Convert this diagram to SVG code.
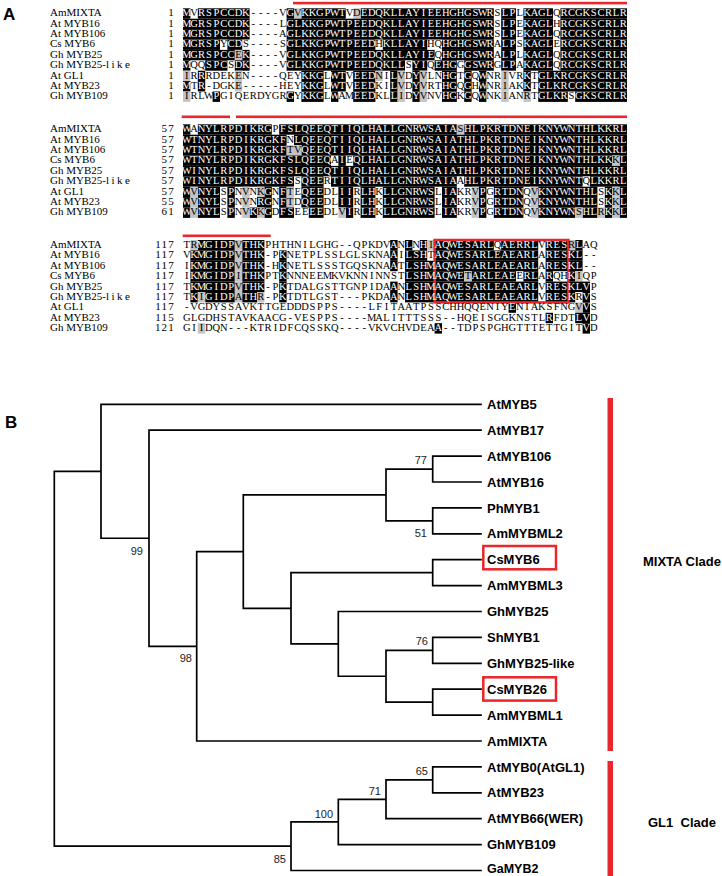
<svg xmlns="http://www.w3.org/2000/svg" width="722" height="876" viewBox="0 0 722 876">
<style>
.g{fill:#c4c4c4}
.sq{font-family:"Liberation Serif","Times New Roman",serif;font-size:10.5px;text-anchor:middle;fill:#000}
.w{fill:#fff}
.nm{font-family:"Liberation Serif","Times New Roman",serif;font-size:11px;fill:#000}
.num{font-family:"Liberation Serif","Times New Roman",serif;font-size:11px;text-anchor:end;fill:#000;letter-spacing:1.2px}
.red{fill:#e8262b}
.pl{font-family:"Liberation Sans",Arial,sans-serif;font-weight:bold;font-size:17px;fill:#000}
.lbl{font-family:"Liberation Sans",Arial,sans-serif;font-weight:bold;font-size:13px;fill:#000}
.bs{font-family:"Liberation Sans",Arial,sans-serif;font-size:11px;text-anchor:end;fill:#222}
.tree{fill:none;stroke:#000;stroke-width:1.7;stroke-linecap:square}
.box{fill:none;stroke:#e8262b;stroke-width:2.5}
</style>
<rect width="722" height="876" fill="#fff"/>
<g id="panelA">
<text class="pl" x="3" y="20">A</text>
<rect class="red" x="293" y="1.8" width="334" height="2.6"/>
<rect class="red" x="181.7" y="115.5" width="48.3" height="2.6"/>
<rect class="red" x="236" y="115.5" width="391" height="2.6"/>
<rect class="red" x="182.7" y="234.5" width="88" height="2.6"/>
<g id="shading">
<g transform="translate(183 8.3) scale(7.4 1)"><rect x="0" width="1" height="10.4"/><rect x="2" width="7" height="10.4"/><rect x="14" width="1" height="10.4"/><rect x="16" width="6" height="10.4"/><rect x="24" width="18" height="10.4"/><rect x="43" width="2" height="10.4"/><rect x="46" width="4" height="10.4"/><rect x="51" width="9" height="10.4"/><rect class="g" x="15" width="1" height="10.4"/><rect class="g" x="23" width="1" height="10.4"/></g>
<g transform="translate(183 18.7) scale(7.4 1)"><rect x="0" width="9" height="10.4"/><rect x="14" width="28" height="10.4"/><rect x="43" width="2" height="10.4"/><rect x="46" width="4" height="10.4"/><rect x="51" width="9" height="10.4"/></g>
<g transform="translate(183 29.1) scale(7.4 1)"><rect x="0" width="9" height="10.4"/><rect x="14" width="28" height="10.4"/><rect x="43" width="2" height="10.4"/><rect x="46" width="4" height="10.4"/><rect x="51" width="9" height="10.4"/></g>
<g transform="translate(183 39.5) scale(7.4 1)"><rect x="0" width="5" height="10.4"/><rect x="6" width="2" height="10.4"/><rect x="14" width="12" height="10.4"/><rect x="27" width="6" height="10.4"/><rect x="35" width="7" height="10.4"/><rect x="43" width="2" height="10.4"/><rect x="46" width="4" height="10.4"/><rect x="51" width="9" height="10.4"/></g>
<g transform="translate(183 49.9) scale(7.4 1)"><rect x="0" width="7" height="10.4"/><rect x="8" width="1" height="10.4"/><rect x="14" width="20" height="10.4"/><rect x="35" width="7" height="10.4"/><rect x="43" width="2" height="10.4"/><rect x="46" width="4" height="10.4"/><rect x="51" width="9" height="10.4"/><rect class="g" x="7" width="1" height="10.4"/></g>
<g transform="translate(183 60.3) scale(7.4 1)"><rect x="0" width="1" height="10.4"/><rect x="3" width="3" height="10.4"/><rect x="7" width="2" height="10.4"/><rect x="14" width="16" height="10.4"/><rect x="31" width="2" height="10.4"/><rect x="34" width="3" height="10.4"/><rect x="38" width="4" height="10.4"/><rect x="43" width="2" height="10.4"/><rect x="46" width="4" height="10.4"/><rect x="51" width="9" height="10.4"/></g>
<g transform="translate(183 70.7) scale(7.4 1)"><rect x="2" width="1" height="10.4"/><rect x="16" width="3" height="10.4"/><rect x="20" width="2" height="10.4"/><rect x="23" width="3" height="10.4"/><rect x="28" width="1" height="10.4"/><rect x="31" width="1" height="10.4"/><rect x="35" width="2" height="10.4"/><rect x="38" width="1" height="10.4"/><rect x="40" width="1" height="10.4"/><rect x="46" width="1" height="10.4"/><rect x="48" width="12" height="10.4"/><rect class="g" x="0" width="1" height="10.4"/><rect class="g" x="7" width="1" height="10.4"/><rect class="g" x="26" width="1" height="10.4"/><rect class="g" x="29" width="1" height="10.4"/><rect class="g" x="32" width="1" height="10.4"/><rect class="g" x="43" width="1" height="10.4"/></g>
<g transform="translate(183 81.1) scale(7.4 1)"><rect x="0" width="1" height="10.4"/><rect x="2" width="1" height="10.4"/><rect x="16" width="3" height="10.4"/><rect x="20" width="2" height="10.4"/><rect x="23" width="3" height="10.4"/><rect x="28" width="1" height="10.4"/><rect x="31" width="1" height="10.4"/><rect x="35" width="2" height="10.4"/><rect x="38" width="1" height="10.4"/><rect x="40" width="1" height="10.4"/><rect x="46" width="1" height="10.4"/><rect x="48" width="12" height="10.4"/><rect class="g" x="7" width="1" height="10.4"/><rect class="g" x="29" width="1" height="10.4"/><rect class="g" x="32" width="1" height="10.4"/><rect class="g" x="43" width="1" height="10.4"/></g>
<g transform="translate(183 91.5) scale(7.4 1)"><rect x="4" width="1" height="10.4"/><rect x="14" width="1" height="10.4"/><rect x="16" width="3" height="10.4"/><rect x="20" width="1" height="10.4"/><rect x="23" width="3" height="10.4"/><rect x="28" width="1" height="10.4"/><rect x="31" width="1" height="10.4"/><rect x="35" width="2" height="10.4"/><rect x="38" width="1" height="10.4"/><rect x="40" width="1" height="10.4"/><rect x="48" width="4" height="10.4"/><rect x="53" width="7" height="10.4"/><rect class="g" x="0" width="1" height="10.4"/><rect class="g" x="29" width="1" height="10.4"/><rect class="g" x="32" width="1" height="10.4"/><rect class="g" x="43" width="1" height="10.4"/><rect class="g" x="46" width="1" height="10.4"/></g>

<g transform="translate(183 124.3) scale(7.4 1)"><rect x="0" width="1" height="10.4"/><rect x="2" width="10" height="10.4"/><rect x="13" width="24" height="10.4"/><rect x="38" width="22" height="10.4"/><rect class="g" x="37" width="1" height="10.4"/></g>
<g transform="translate(183 134.7) scale(7.4 1)"><rect x="0" width="14" height="10.4"/><rect x="15" width="45" height="10.4"/></g>
<g transform="translate(183 145.1) scale(7.4 1)"><rect x="0" width="14" height="10.4"/><rect x="16" width="44" height="10.4"/><rect class="g" x="14" width="2" height="10.4"/></g>
<g transform="translate(183 155.5) scale(7.4 1)"><rect x="0" width="20" height="10.4"/><rect x="21" width="1" height="10.4"/><rect x="23" width="35" height="10.4"/><rect x="59" width="1" height="10.4"/><rect class="g" x="58" width="1" height="10.4"/></g>
<g transform="translate(183 165.9) scale(7.4 1)"><rect x="0" width="60" height="10.4"/></g>
<g transform="translate(183 176.3) scale(7.4 1)"><rect x="0" width="15" height="10.4"/><rect x="16" width="3" height="10.4"/><rect x="20" width="17" height="10.4"/><rect x="38" width="16" height="10.4"/><rect x="55" width="5" height="10.4"/></g>
<g transform="translate(183 186.7) scale(7.4 1)"><rect x="0" width="1" height="10.4"/><rect x="2" width="3" height="10.4"/><rect x="6" width="1" height="10.4"/><rect x="11" width="1" height="10.4"/><rect x="13" width="1" height="10.4"/><rect x="16" width="3" height="10.4"/><rect x="21" width="2" height="10.4"/><rect x="24" width="2" height="10.4"/><rect x="27" width="7" height="10.4"/><rect x="35" width="2" height="10.4"/><rect x="40" width="1" height="10.4"/><rect x="42" width="4" height="10.4"/><rect x="48" width="8" height="10.4"/><rect x="57" width="1" height="10.4"/><rect x="59" width="1" height="10.4"/><rect class="g" x="1" width="1" height="10.4"/><rect class="g" x="8" width="1" height="10.4"/><rect class="g" x="10" width="1" height="10.4"/><rect class="g" x="14" width="1" height="10.4"/><rect class="g" x="39" width="1" height="10.4"/><rect class="g" x="47" width="1" height="10.4"/><rect class="g" x="58" width="1" height="10.4"/></g>
<g transform="translate(183 197.1) scale(7.4 1)"><rect x="0" width="1" height="10.4"/><rect x="2" width="3" height="10.4"/><rect x="6" width="1" height="10.4"/><rect x="10" width="2" height="10.4"/><rect x="13" width="1" height="10.4"/><rect x="16" width="3" height="10.4"/><rect x="21" width="2" height="10.4"/><rect x="24" width="2" height="10.4"/><rect x="27" width="7" height="10.4"/><rect x="35" width="2" height="10.4"/><rect x="40" width="1" height="10.4"/><rect x="42" width="4" height="10.4"/><rect x="48" width="8" height="10.4"/><rect x="57" width="1" height="10.4"/><rect x="59" width="1" height="10.4"/><rect class="g" x="1" width="1" height="10.4"/><rect class="g" x="8" width="1" height="10.4"/><rect class="g" x="14" width="1" height="10.4"/><rect class="g" x="39" width="1" height="10.4"/><rect class="g" x="47" width="1" height="10.4"/><rect class="g" x="58" width="1" height="10.4"/></g>
<g transform="translate(183 207.5) scale(7.4 1)"><rect x="0" width="1" height="10.4"/><rect x="2" width="3" height="10.4"/><rect x="6" width="1" height="10.4"/><rect x="9" width="1" height="10.4"/><rect x="11" width="1" height="10.4"/><rect x="13" width="2" height="10.4"/><rect x="17" width="2" height="10.4"/><rect x="22" width="1" height="10.4"/><rect x="24" width="2" height="10.4"/><rect x="27" width="7" height="10.4"/><rect x="35" width="2" height="10.4"/><rect x="40" width="1" height="10.4"/><rect x="42" width="4" height="10.4"/><rect x="48" width="5" height="10.4"/><rect x="54" width="2" height="10.4"/><rect x="57" width="1" height="10.4"/><rect x="59" width="1" height="10.4"/><rect class="g" x="1" width="1" height="10.4"/><rect class="g" x="8" width="1" height="10.4"/><rect class="g" x="10" width="1" height="10.4"/><rect class="g" x="21" width="1" height="10.4"/><rect class="g" x="39" width="1" height="10.4"/><rect class="g" x="47" width="1" height="10.4"/><rect class="g" x="53" width="1" height="10.4"/><rect class="g" x="56" width="1" height="10.4"/><rect class="g" x="58" width="1" height="10.4"/></g>

<g transform="translate(183 240) scale(7.4 1)"><rect x="2" width="5" height="10.4"/><rect x="8" width="3" height="10.4"/><rect x="28" width="1" height="10.4"/><rect x="30" width="1" height="10.4"/><rect x="32" width="1" height="10.4"/><rect x="34" width="8" height="10.4"/><rect x="43" width="5" height="10.4"/><rect x="49" width="3" height="10.4"/><rect x="53" width="1" height="10.4"/><rect class="g" x="1" width="1" height="10.4"/><rect class="g" x="7" width="1" height="10.4"/><rect class="g" x="33" width="1" height="10.4"/><rect class="g" x="52" width="1" height="10.4"/></g>
<g transform="translate(183 250.4) scale(7.4 1)"><rect x="1" width="6" height="10.4"/><rect x="8" width="3" height="10.4"/><rect x="13" width="1" height="10.4"/><rect x="28" width="1" height="10.4"/><rect x="30" width="3" height="10.4"/><rect x="34" width="14" height="10.4"/><rect x="49" width="5" height="10.4"/><rect class="g" x="7" width="1" height="10.4"/></g>
<g transform="translate(183 260.8) scale(7.4 1)"><rect x="1" width="6" height="10.4"/><rect x="8" width="3" height="10.4"/><rect x="13" width="1" height="10.4"/><rect x="28" width="1" height="10.4"/><rect x="30" width="18" height="10.4"/><rect x="49" width="5" height="10.4"/><rect class="g" x="7" width="1" height="10.4"/></g>
<g transform="translate(183 271.2) scale(7.4 1)"><rect x="1" width="6" height="10.4"/><rect x="8" width="3" height="10.4"/><rect x="13" width="1" height="10.4"/><rect x="30" width="8" height="10.4"/><rect x="39" width="6" height="10.4"/><rect x="46" width="2" height="10.4"/><rect x="49" width="1" height="10.4"/><rect x="52" width="1" height="10.4"/><rect class="g" x="7" width="1" height="10.4"/><rect class="g" x="38" width="1" height="10.4"/><rect class="g" x="53" width="1" height="10.4"/></g>
<g transform="translate(183 281.6) scale(7.4 1)"><rect x="1" width="6" height="10.4"/><rect x="8" width="3" height="10.4"/><rect x="13" width="1" height="10.4"/><rect x="28" width="1" height="10.4"/><rect x="30" width="18" height="10.4"/><rect x="49" width="6" height="10.4"/><rect class="g" x="7" width="1" height="10.4"/></g>
<g transform="translate(183 292) scale(7.4 1)"><rect x="1" width="1" height="10.4"/><rect x="3" width="4" height="10.4"/><rect x="8" width="2" height="10.4"/><rect x="13" width="1" height="10.4"/><rect x="28" width="1" height="10.4"/><rect x="30" width="18" height="10.4"/><rect x="49" width="4" height="10.4"/><rect x="54" width="1" height="10.4"/><rect class="g" x="2" width="1" height="10.4"/><rect class="g" x="7" width="1" height="10.4"/><rect class="g" x="10" width="1" height="10.4"/></g>
<g transform="translate(183 302.4) scale(7.4 1)"><rect x="44" width="1" height="10.4"/><rect x="54" width="1" height="10.4"/><rect class="g" x="53" width="1" height="10.4"/></g>
<g transform="translate(183 312.8) scale(7.4 1)"><rect x="49" width="1" height="10.4"/><rect x="53" width="2" height="10.4"/></g>
<g transform="translate(183 323.2) scale(7.4 1)"><rect x="34" width="1" height="10.4"/><rect x="54" width="1" height="10.4"/><rect class="g" x="2" width="1" height="10.4"/></g>
</g>
<rect class="box" x="434.6" y="240" width="133.8" height="62.4"/>
<g id="names">
<text class="nm" x="50" y="16.2">AmMIXTA</text>
<text class="nm" x="50" y="26.6">At MYB16</text>
<text class="nm" x="50" y="37">At MYB106</text>
<text class="nm" x="50" y="47.4">Cs MYB6</text>
<text class="nm" x="50" y="57.8">Gh MYB25</text>
<text class="nm" x="50" y="68.2">Gh MYB25-<tspan letter-spacing="2.5">like</tspan></text>
<text class="nm" x="50" y="78.6">At GL1</text>
<text class="nm" x="50" y="89">At MYB23</text>
<text class="nm" x="50" y="99.4">Gh MYB109</text>
<text class="nm" x="50" y="132.2">AmMIXTA</text>
<text class="nm" x="50" y="142.6">At MYB16</text>
<text class="nm" x="50" y="153">At MYB106</text>
<text class="nm" x="50" y="163.4">Cs MYB6</text>
<text class="nm" x="50" y="173.8">Gh MYB25</text>
<text class="nm" x="50" y="184.2">Gh MYB25-<tspan letter-spacing="2.5">like</tspan></text>
<text class="nm" x="50" y="194.6">At GL1</text>
<text class="nm" x="50" y="205">At MYB23</text>
<text class="nm" x="50" y="215.4">Gh MYB109</text>
<text class="nm" x="50" y="247.9">AmMIXTA</text>
<text class="nm" x="50" y="258.3">At MYB16</text>
<text class="nm" x="50" y="268.7">At MYB106</text>
<text class="nm" x="50" y="279.1">Cs MYB6</text>
<text class="nm" x="50" y="289.5">Gh MYB25</text>
<text class="nm" x="50" y="299.9">Gh MYB25-<tspan letter-spacing="2.5">like</tspan></text>
<text class="nm" x="50" y="310.3">At GL1</text>
<text class="nm" x="50" y="320.7">At MYB23</text>
<text class="nm" x="50" y="331.1">Gh MYB109</text>
</g>
<g id="numbers">
<text class="num" x="175" y="16.2">1</text><text class="num" x="175" y="26.6">1</text><text class="num" x="175" y="37">1</text><text class="num" x="175" y="47.4">1</text><text class="num" x="175" y="57.8">1</text><text class="num" x="175" y="68.2">1</text><text class="num" x="175" y="78.6">1</text><text class="num" x="175" y="89">1</text><text class="num" x="175" y="99.4">1</text>
<text class="num" x="175" y="132.2">57</text><text class="num" x="175" y="142.6">57</text><text class="num" x="175" y="153">57</text><text class="num" x="175" y="163.4">57</text><text class="num" x="175" y="173.8">57</text><text class="num" x="175" y="184.2">57</text><text class="num" x="175" y="194.6">57</text><text class="num" x="175" y="205">55</text><text class="num" x="175" y="215.4">61</text>
<text class="num" x="175" y="247.9">117</text><text class="num" x="175" y="258.3">117</text><text class="num" x="175" y="268.7">117</text><text class="num" x="175" y="279.1">117</text><text class="num" x="175" y="289.5">117</text><text class="num" x="175" y="299.9">117</text><text class="num" x="175" y="310.3">117</text><text class="num" x="175" y="320.7">115</text><text class="num" x="175" y="331.1">121</text>
</g>
<g id="sequences">
<text class="sq" y="16.2" x="186.7 194.1 201.5 208.9 216.3 223.7 231.1 238.5 245.9 253.3 260.7 268.1 275.5 282.9 290.3 297.7 305.1 312.5 319.9 327.3 334.7 342.1 349.5 356.9 364.3 371.7 379.1 386.5 393.9 401.3 408.7 416.1 423.5 430.9 438.3 445.7 453.1 460.5 467.9 475.3 482.7 490.1 497.5 504.9 512.3 519.7 527.1 534.5 541.9 549.3 556.7 564.1 571.5 578.9 586.3 593.7 601.1 608.5 615.9 623.3"><tspan class="w">M</tspan>V<tspan class="w">RSPCCDK</tspan>----V<tspan class="w">G</tspan>V<tspan class="w">KKGPWT</tspan>VD<tspan class="w">EDQKLLAYIEEHGHGSWR</tspan>S<tspan class="w">LP</tspan>L<tspan class="w">KAGL</tspan>Q<tspan class="w">RCGKSCRLR</tspan></text>
<text class="sq" y="26.6" x="186.7 194.1 201.5 208.9 216.3 223.7 231.1 238.5 245.9 253.3 260.7 268.1 275.5 282.9 290.3 297.7 305.1 312.5 319.9 327.3 334.7 342.1 349.5 356.9 364.3 371.7 379.1 386.5 393.9 401.3 408.7 416.1 423.5 430.9 438.3 445.7 453.1 460.5 467.9 475.3 482.7 490.1 497.5 504.9 512.3 519.7 527.1 534.5 541.9 549.3 556.7 564.1 571.5 578.9 586.3 593.7 601.1 608.5 615.9 623.3"><tspan class="w">MGRSPCCDK</tspan>----L<tspan class="w">GLKKGPWTPEEDQKLLAYIEEHGHGSWR</tspan>S<tspan class="w">LP</tspan>E<tspan class="w">KAGL</tspan>H<tspan class="w">RCGKSCRLR</tspan></text>
<text class="sq" y="37" x="186.7 194.1 201.5 208.9 216.3 223.7 231.1 238.5 245.9 253.3 260.7 268.1 275.5 282.9 290.3 297.7 305.1 312.5 319.9 327.3 334.7 342.1 349.5 356.9 364.3 371.7 379.1 386.5 393.9 401.3 408.7 416.1 423.5 430.9 438.3 445.7 453.1 460.5 467.9 475.3 482.7 490.1 497.5 504.9 512.3 519.7 527.1 534.5 541.9 549.3 556.7 564.1 571.5 578.9 586.3 593.7 601.1 608.5 615.9 623.3"><tspan class="w">MGRSPCCDK</tspan>----A<tspan class="w">GLKKGPWTPEEDQKLLAYIEEHGHGSWR</tspan>S<tspan class="w">LP</tspan>E<tspan class="w">KAGL</tspan>Q<tspan class="w">RCGKSCRLR</tspan></text>
<text class="sq" y="47.4" x="186.7 194.1 201.5 208.9 216.3 223.7 231.1 238.5 245.9 253.3 260.7 268.1 275.5 282.9 290.3 297.7 305.1 312.5 319.9 327.3 334.7 342.1 349.5 356.9 364.3 371.7 379.1 386.5 393.9 401.3 408.7 416.1 423.5 430.9 438.3 445.7 453.1 460.5 467.9 475.3 482.7 490.1 497.5 504.9 512.3 519.7 527.1 534.5 541.9 549.3 556.7 564.1 571.5 578.9 586.3 593.7 601.1 608.5 615.9 623.3"><tspan class="w">MGRSP</tspan>Y<tspan class="w">CD</tspan>S----S<tspan class="w">GLKKGPWTPEED</tspan>H<tspan class="w">KLLAYI</tspan>HQ<tspan class="w">HGHGSWR</tspan>A<tspan class="w">LP</tspan>S<tspan class="w">KAGL</tspan>E<tspan class="w">RCGKSCRLR</tspan></text>
<text class="sq" y="57.8" x="186.7 194.1 201.5 208.9 216.3 223.7 231.1 238.5 245.9 253.3 260.7 268.1 275.5 282.9 290.3 297.7 305.1 312.5 319.9 327.3 334.7 342.1 349.5 356.9 364.3 371.7 379.1 386.5 393.9 401.3 408.7 416.1 423.5 430.9 438.3 445.7 453.1 460.5 467.9 475.3 482.7 490.1 497.5 504.9 512.3 519.7 527.1 534.5 541.9 549.3 556.7 564.1 571.5 578.9 586.3 593.7 601.1 608.5 615.9 623.3"><tspan class="w">MGRSPCC</tspan>E<tspan class="w">K</tspan>----V<tspan class="w">GLKKGPWTPEEDQKLLAYIE</tspan>Q<tspan class="w">HGHGSWR</tspan>A<tspan class="w">LP</tspan>L<tspan class="w">KAGL</tspan>Q<tspan class="w">RCGKSCRLR</tspan></text>
<text class="sq" y="68.2" x="186.7 194.1 201.5 208.9 216.3 223.7 231.1 238.5 245.9 253.3 260.7 268.1 275.5 282.9 290.3 297.7 305.1 312.5 319.9 327.3 334.7 342.1 349.5 356.9 364.3 371.7 379.1 386.5 393.9 401.3 408.7 416.1 423.5 430.9 438.3 445.7 453.1 460.5 467.9 475.3 482.7 490.1 497.5 504.9 512.3 519.7 527.1 534.5 541.9 549.3 556.7 564.1 571.5 578.9 586.3 593.7 601.1 608.5 615.9 623.3"><tspan class="w">M</tspan>QQ<tspan class="w">SPC</tspan>S<tspan class="w">DK</tspan>----V<tspan class="w">GLKKGPWTPEEDQKLL</tspan>S<tspan class="w">YI</tspan>Q<tspan class="w">EHG</tspan>G<tspan class="w">GSWR</tspan>G<tspan class="w">LP</tspan>A<tspan class="w">KAGL</tspan>Q<tspan class="w">RCGKSCRLR</tspan></text>
<text class="sq" y="78.6" x="186.7 194.1 201.5 208.9 216.3 223.7 231.1 238.5 245.9 253.3 260.7 268.1 275.5 282.9 290.3 297.7 305.1 312.5 319.9 327.3 334.7 342.1 349.5 356.9 364.3 371.7 379.1 386.5 393.9 401.3 408.7 416.1 423.5 430.9 438.3 445.7 453.1 460.5 467.9 475.3 482.7 490.1 497.5 504.9 512.3 519.7 527.1 534.5 541.9 549.3 556.7 564.1 571.5 578.9 586.3 593.7 601.1 608.5 615.9 623.3">IR<tspan class="w">R</tspan>RDEKEN----QEY<tspan class="w">KKG</tspan>L<tspan class="w">WT</tspan>V<tspan class="w">EED</tspan>NI<tspan class="w">L</tspan>VD<tspan class="w">Y</tspan>VLN<tspan class="w">HG</tspan>T<tspan class="w">G</tspan>Q<tspan class="w">W</tspan>NRIVR<tspan class="w">K</tspan>T<tspan class="w">GLKRCGKSCRLR</tspan></text>
<text class="sq" y="89" x="186.7 194.1 201.5 208.9 216.3 223.7 231.1 238.5 245.9 253.3 260.7 268.1 275.5 282.9 290.3 297.7 305.1 312.5 319.9 327.3 334.7 342.1 349.5 356.9 364.3 371.7 379.1 386.5 393.9 401.3 408.7 416.1 423.5 430.9 438.3 445.7 453.1 460.5 467.9 475.3 482.7 490.1 497.5 504.9 512.3 519.7 527.1 534.5 541.9 549.3 556.7 564.1 571.5 578.9 586.3 593.7 601.1 608.5 615.9 623.3"><tspan class="w">M</tspan>T<tspan class="w">R</tspan>-DGKE-----HEY<tspan class="w">KKG</tspan>L<tspan class="w">WT</tspan>V<tspan class="w">EED</tspan>KI<tspan class="w">L</tspan>VD<tspan class="w">Y</tspan>VRT<tspan class="w">HG</tspan>Q<tspan class="w">G</tspan>H<tspan class="w">W</tspan>NRIAK<tspan class="w">K</tspan>T<tspan class="w">GLKRCGKSCRLR</tspan></text>
<text class="sq" y="99.4" x="186.7 194.1 201.5 208.9 216.3 223.7 231.1 238.5 245.9 253.3 260.7 268.1 275.5 282.9 290.3 297.7 305.1 312.5 319.9 327.3 334.7 342.1 349.5 356.9 364.3 371.7 379.1 386.5 393.9 401.3 408.7 416.1 423.5 430.9 438.3 445.7 453.1 460.5 467.9 475.3 482.7 490.1 497.5 504.9 512.3 519.7 527.1 534.5 541.9 549.3 556.7 564.1 571.5 578.9 586.3 593.7 601.1 608.5 615.9 623.3">IRLW<tspan class="w">P</tspan>GIQERDYGR<tspan class="w">G</tspan>Y<tspan class="w">KKG</tspan>L<tspan class="w">W</tspan>AM<tspan class="w">EED</tspan>KL<tspan class="w">L</tspan>ID<tspan class="w">Y</tspan>VNV<tspan class="w">HG</tspan>K<tspan class="w">G</tspan>Q<tspan class="w">W</tspan>NKIANRT<tspan class="w">GLKR</tspan>S<tspan class="w">GKSCRLR</tspan></text>

<text class="sq" y="132.2" x="186.7 194.1 201.5 208.9 216.3 223.7 231.1 238.5 245.9 253.3 260.7 268.1 275.5 282.9 290.3 297.7 305.1 312.5 319.9 327.3 334.7 342.1 349.5 356.9 364.3 371.7 379.1 386.5 393.9 401.3 408.7 416.1 423.5 430.9 438.3 445.7 453.1 460.5 467.9 475.3 482.7 490.1 497.5 504.9 512.3 519.7 527.1 534.5 541.9 549.3 556.7 564.1 571.5 578.9 586.3 593.7 601.1 608.5 615.9 623.3"><tspan class="w">W</tspan>A<tspan class="w">NYLRPDIKRG</tspan>P<tspan class="w">FSLQEEQTIIQLHALLGNRWSAIA</tspan>S<tspan class="w">HLPKRTDNEIKNYWNTHLKKRL</tspan></text>
<text class="sq" y="142.6" x="186.7 194.1 201.5 208.9 216.3 223.7 231.1 238.5 245.9 253.3 260.7 268.1 275.5 282.9 290.3 297.7 305.1 312.5 319.9 327.3 334.7 342.1 349.5 356.9 364.3 371.7 379.1 386.5 393.9 401.3 408.7 416.1 423.5 430.9 438.3 445.7 453.1 460.5 467.9 475.3 482.7 490.1 497.5 504.9 512.3 519.7 527.1 534.5 541.9 549.3 556.7 564.1 571.5 578.9 586.3 593.7 601.1 608.5 615.9 623.3"><tspan class="w">WTNYLRPDIKRGKF</tspan>N<tspan class="w">LQEEQTIIQLHALLGNRWSAIATHLPKRTDNEIKNYWNTHLKKRL</tspan></text>
<text class="sq" y="153" x="186.7 194.1 201.5 208.9 216.3 223.7 231.1 238.5 245.9 253.3 260.7 268.1 275.5 282.9 290.3 297.7 305.1 312.5 319.9 327.3 334.7 342.1 349.5 356.9 364.3 371.7 379.1 386.5 393.9 401.3 408.7 416.1 423.5 430.9 438.3 445.7 453.1 460.5 467.9 475.3 482.7 490.1 497.5 504.9 512.3 519.7 527.1 534.5 541.9 549.3 556.7 564.1 571.5 578.9 586.3 593.7 601.1 608.5 615.9 623.3"><tspan class="w">WTNYLRPDIKRGKF</tspan>TV<tspan class="w">QEEQTIIQLHALLGNRWSAIATHLPKRTDNEIKNYWNTHLKKRL</tspan></text>
<text class="sq" y="163.4" x="186.7 194.1 201.5 208.9 216.3 223.7 231.1 238.5 245.9 253.3 260.7 268.1 275.5 282.9 290.3 297.7 305.1 312.5 319.9 327.3 334.7 342.1 349.5 356.9 364.3 371.7 379.1 386.5 393.9 401.3 408.7 416.1 423.5 430.9 438.3 445.7 453.1 460.5 467.9 475.3 482.7 490.1 497.5 504.9 512.3 519.7 527.1 534.5 541.9 549.3 556.7 564.1 571.5 578.9 586.3 593.7 601.1 608.5 615.9 623.3"><tspan class="w">WTNYLRPDIKRGKFSLQEEQ</tspan>A<tspan class="w">I</tspan>E<tspan class="w">QLHALLGNRWSAIATHLPKRTDNEIKNYWNTHLKK</tspan>K<tspan class="w">L</tspan></text>
<text class="sq w" y="173.8" x="186.7 194.1 201.5 208.9 216.3 223.7 231.1 238.5 245.9 253.3 260.7 268.1 275.5 282.9 290.3 297.7 305.1 312.5 319.9 327.3 334.7 342.1 349.5 356.9 364.3 371.7 379.1 386.5 393.9 401.3 408.7 416.1 423.5 430.9 438.3 445.7 453.1 460.5 467.9 475.3 482.7 490.1 497.5 504.9 512.3 519.7 527.1 534.5 541.9 549.3 556.7 564.1 571.5 578.9 586.3 593.7 601.1 608.5 615.9 623.3">WINYLRPDIKRGKFSLQEEQTIIQLHALLGNRWSAIATHLPKRTDNEIKNYWNTHLKKRL</text>
<text class="sq" y="184.2" x="186.7 194.1 201.5 208.9 216.3 223.7 231.1 238.5 245.9 253.3 260.7 268.1 275.5 282.9 290.3 297.7 305.1 312.5 319.9 327.3 334.7 342.1 349.5 356.9 364.3 371.7 379.1 386.5 393.9 401.3 408.7 416.1 423.5 430.9 438.3 445.7 453.1 460.5 467.9 475.3 482.7 490.1 497.5 504.9 512.3 519.7 527.1 534.5 541.9 549.3 556.7 564.1 571.5 578.9 586.3 593.7 601.1 608.5 615.9 623.3"><tspan class="w">WINYLRPDIKRGKFS</tspan>S<tspan class="w">QEE</tspan>R<tspan class="w">TIIQLHALLGNRWSAIA</tspan>A<tspan class="w">HLPKRTDNEIKNYWNT</tspan>Q<tspan class="w">LKKRL</tspan></text>
<text class="sq" y="194.6" x="186.7 194.1 201.5 208.9 216.3 223.7 231.1 238.5 245.9 253.3 260.7 268.1 275.5 282.9 290.3 297.7 305.1 312.5 319.9 327.3 334.7 342.1 349.5 356.9 364.3 371.7 379.1 386.5 393.9 401.3 408.7 416.1 423.5 430.9 438.3 445.7 453.1 460.5 467.9 475.3 482.7 490.1 497.5 504.9 512.3 519.7 527.1 534.5 541.9 549.3 556.7 564.1 571.5 578.9 586.3 593.7 601.1 608.5 615.9 623.3"><tspan class="w">W</tspan>V<tspan class="w">NYL</tspan>S<tspan class="w">P</tspan>NVNK<tspan class="w">G</tspan>N<tspan class="w">F</tspan>TE<tspan class="w">QEE</tspan>DL<tspan class="w">II</tspan>R<tspan class="w">LH</tspan>K<tspan class="w">LLGNRWS</tspan>L<tspan class="w">IA</tspan>KRV<tspan class="w">P</tspan>G<tspan class="w">RTDN</tspan>QV<tspan class="w">KNYWNTHL</tspan>S<tspan class="w">K</tspan>K<tspan class="w">L</tspan></text>
<text class="sq" y="205" x="186.7 194.1 201.5 208.9 216.3 223.7 231.1 238.5 245.9 253.3 260.7 268.1 275.5 282.9 290.3 297.7 305.1 312.5 319.9 327.3 334.7 342.1 349.5 356.9 364.3 371.7 379.1 386.5 393.9 401.3 408.7 416.1 423.5 430.9 438.3 445.7 453.1 460.5 467.9 475.3 482.7 490.1 497.5 504.9 512.3 519.7 527.1 534.5 541.9 549.3 556.7 564.1 571.5 578.9 586.3 593.7 601.1 608.5 615.9 623.3"><tspan class="w">W</tspan>V<tspan class="w">NYL</tspan>S<tspan class="w">P</tspan>NVN<tspan class="w">RG</tspan>N<tspan class="w">F</tspan>TD<tspan class="w">QEE</tspan>DL<tspan class="w">II</tspan>R<tspan class="w">LH</tspan>K<tspan class="w">LLGNRWS</tspan>L<tspan class="w">IA</tspan>KRV<tspan class="w">P</tspan>G<tspan class="w">RTDN</tspan>QV<tspan class="w">KNYWNTHL</tspan>S<tspan class="w">K</tspan>K<tspan class="w">L</tspan></text>
<text class="sq" y="215.4" x="186.7 194.1 201.5 208.9 216.3 223.7 231.1 238.5 245.9 253.3 260.7 268.1 275.5 282.9 290.3 297.7 305.1 312.5 319.9 327.3 334.7 342.1 349.5 356.9 364.3 371.7 379.1 386.5 393.9 401.3 408.7 416.1 423.5 430.9 438.3 445.7 453.1 460.5 467.9 475.3 482.7 490.1 497.5 504.9 512.3 519.7 527.1 534.5 541.9 549.3 556.7 564.1 571.5 578.9 586.3 593.7 601.1 608.5 615.9 623.3"><tspan class="w">W</tspan>V<tspan class="w">NYL</tspan>S<tspan class="w">P</tspan>NV<tspan class="w">K</tspan>K<tspan class="w">G</tspan>D<tspan class="w">FS</tspan>EE<tspan class="w">EE</tspan>DLV<tspan class="w">I</tspan>R<tspan class="w">LH</tspan>K<tspan class="w">LLGNRWS</tspan>L<tspan class="w">IA</tspan>KRV<tspan class="w">P</tspan>G<tspan class="w">RTDN</tspan>QV<tspan class="w">KNYWN</tspan>S<tspan class="w">HL</tspan>R<tspan class="w">K</tspan>K<tspan class="w">L</tspan></text>

<text class="sq" y="247.9" x="186.7 194.1 201.5 208.9 216.3 223.7 231.1 238.5 245.9 253.3 260.7 268.1 275.5 282.9 290.3 297.7 305.1 312.5 319.9 327.3 334.7 342.1 349.5 356.9 364.3 371.7 379.1 386.5 393.9 401.3 408.7 416.1 423.5 430.9 438.3 445.7 453.1 460.5 467.9 475.3 482.7 490.1 497.5 504.9 512.3 519.7 527.1 534.5 541.9 549.3 556.7 564.1 571.5 578.9 586.3 593.7">TR<tspan class="w">MGIDP</tspan>V<tspan class="w">THK</tspan>PHTHNILGHG--QPKDV<tspan class="w">A</tspan>N<tspan class="w">L</tspan>N<tspan class="w">H</tspan>I<tspan class="w">AQWESARL</tspan>Q<tspan class="w">AERRL</tspan>V<tspan class="w">RES</tspan>R<tspan class="w">L</tspan>AQ</text>
<text class="sq" y="258.3" x="186.7 194.1 201.5 208.9 216.3 223.7 231.1 238.5 245.9 253.3 260.7 268.1 275.5 282.9 290.3 297.7 305.1 312.5 319.9 327.3 334.7 342.1 349.5 356.9 364.3 371.7 379.1 386.5 393.9 401.3 408.7 416.1 423.5 430.9 438.3 445.7 453.1 460.5 467.9 475.3 482.7 490.1 497.5 504.9 512.3 519.7 527.1 534.5 541.9 549.3 556.7 564.1 571.5 578.9 586.3 593.7">V<tspan class="w">KMGIDP</tspan>V<tspan class="w">THK</tspan>-P<tspan class="w">K</tspan>NETPLSSLGLSKNA<tspan class="w">A</tspan>I<tspan class="w">LSH</tspan>T<tspan class="w">AQWESARLEAEARL</tspan>A<tspan class="w">RESKL</tspan>--</text>
<text class="sq" y="268.7" x="186.7 194.1 201.5 208.9 216.3 223.7 231.1 238.5 245.9 253.3 260.7 268.1 275.5 282.9 290.3 297.7 305.1 312.5 319.9 327.3 334.7 342.1 349.5 356.9 364.3 371.7 379.1 386.5 393.9 401.3 408.7 416.1 423.5 430.9 438.3 445.7 453.1 460.5 467.9 475.3 482.7 490.1 497.5 504.9 512.3 519.7 527.1 534.5 541.9 549.3 556.7 564.1 571.5 578.9 586.3 593.7">I<tspan class="w">KMGIDP</tspan>V<tspan class="w">THK</tspan>-H<tspan class="w">K</tspan>NETLSSSTGQSKNA<tspan class="w">A</tspan>T<tspan class="w">LSHMAQWESARLEAEARL</tspan>A<tspan class="w">RESKL</tspan>--</text>
<text class="sq" y="279.1" x="186.7 194.1 201.5 208.9 216.3 223.7 231.1 238.5 245.9 253.3 260.7 268.1 275.5 282.9 290.3 297.7 305.1 312.5 319.9 327.3 334.7 342.1 349.5 356.9 364.3 371.7 379.1 386.5 393.9 401.3 408.7 416.1 423.5 430.9 438.3 445.7 453.1 460.5 467.9 475.3 482.7 490.1 497.5 504.9 512.3 519.7 527.1 534.5 541.9 549.3 556.7 564.1 571.5 578.9 586.3 593.7">I<tspan class="w">KMGIDP</tspan>I<tspan class="w">THK</tspan>PT<tspan class="w">K</tspan>NNNEEMKVKNNINNST<tspan class="w">LSHMAQWE</tspan>T<tspan class="w">ARLEAE</tspan>E<tspan class="w">RL</tspan>A<tspan class="w">R</tspan>QH<tspan class="w">K</tspan>IQP</text>
<text class="sq" y="289.5" x="186.7 194.1 201.5 208.9 216.3 223.7 231.1 238.5 245.9 253.3 260.7 268.1 275.5 282.9 290.3 297.7 305.1 312.5 319.9 327.3 334.7 342.1 349.5 356.9 364.3 371.7 379.1 386.5 393.9 401.3 408.7 416.1 423.5 430.9 438.3 445.7 453.1 460.5 467.9 475.3 482.7 490.1 497.5 504.9 512.3 519.7 527.1 534.5 541.9 549.3 556.7 564.1 571.5 578.9 586.3 593.7">T<tspan class="w">KMGIDP</tspan>V<tspan class="w">THK</tspan>-P<tspan class="w">K</tspan>TDALGSTTGNPIDA<tspan class="w">A</tspan>N<tspan class="w">LSHMAQWESARLEAEARL</tspan>V<tspan class="w">RESKLV</tspan>P</text>
<text class="sq" y="299.9" x="186.7 194.1 201.5 208.9 216.3 223.7 231.1 238.5 245.9 253.3 260.7 268.1 275.5 282.9 290.3 297.7 305.1 312.5 319.9 327.3 334.7 342.1 349.5 356.9 364.3 371.7 379.1 386.5 393.9 401.3 408.7 416.1 423.5 430.9 438.3 445.7 453.1 460.5 467.9 475.3 482.7 490.1 497.5 504.9 512.3 519.7 527.1 534.5 541.9 549.3 556.7 564.1 571.5 578.9 586.3 593.7">T<tspan class="w">K</tspan>I<tspan class="w">GIDP</tspan>A<tspan class="w">TH</tspan>R-P<tspan class="w">K</tspan>TDTLGST---PKDA<tspan class="w">A</tspan>N<tspan class="w">LSHMAQWESARLEAEARL</tspan>V<tspan class="w">RESK</tspan>R<tspan class="w">V</tspan>S</text>
<text class="sq" y="310.3" x="186.7 194.1 201.5 208.9 216.3 223.7 231.1 238.5 245.9 253.3 260.7 268.1 275.5 282.9 290.3 297.7 305.1 312.5 319.9 327.3 334.7 342.1 349.5 356.9 364.3 371.7 379.1 386.5 393.9 401.3 408.7 416.1 423.5 430.9 438.3 445.7 453.1 460.5 467.9 475.3 482.7 490.1 497.5 504.9 512.3 519.7 527.1 534.5 541.9 549.3 556.7 564.1 571.5 578.9 586.3 593.7">-VGDYSSAVKTTGEDDDSPPS----LFITAATPSSCHHQQENIY<tspan class="w">E</tspan>NIAKSFNGV<tspan class="w">V</tspan>S</text>
<text class="sq" y="320.7" x="186.7 194.1 201.5 208.9 216.3 223.7 231.1 238.5 245.9 253.3 260.7 268.1 275.5 282.9 290.3 297.7 305.1 312.5 319.9 327.3 334.7 342.1 349.5 356.9 364.3 371.7 379.1 386.5 393.9 401.3 408.7 416.1 423.5 430.9 438.3 445.7 453.1 460.5 467.9 475.3 482.7 490.1 497.5 504.9 512.3 519.7 527.1 534.5 541.9 549.3 556.7 564.1 571.5 578.9 586.3 593.7">GLGDHSTAVKAACG-VESPPS----MALITTTSSS--HQEISGGKNSTL<tspan class="w">R</tspan>FDT<tspan class="w">LV</tspan>D</text>
<text class="sq" y="331.1" x="186.7 194.1 201.5 208.9 216.3 223.7 231.1 238.5 245.9 253.3 260.7 268.1 275.5 282.9 290.3 297.7 305.1 312.5 319.9 327.3 334.7 342.1 349.5 356.9 364.3 371.7 379.1 386.5 393.9 401.3 408.7 416.1 423.5 430.9 438.3 445.7 453.1 460.5 467.9 475.3 482.7 490.1 497.5 504.9 512.3 519.7 527.1 534.5 541.9 549.3 556.7 564.1 571.5 578.9 586.3 593.7">GIIDQN---KTRIDFCQSSKQ----VKVCHVDEA<tspan class="w">A</tspan>--TDPSPGHGTTTETTGIT<tspan class="w">V</tspan>D</text>
</g>
</g>

<g id="panelB">
<text class="pl" x="5" y="428">B</text>
<g id="connectors">
<path class="tree" d="M54.3 471.3V846.2M54.3 471.3H101M101 404.3V538.25M54.3 846.2H291M291 821.95V870.5M101 404.3H481M101 538.25H149M149 430.2V646.3M149 430.2H481M149 646.3H196.7M196.7 551.6V741M196.7 741H481M196.7 551.6H243.3M243.3 494.95V608.3M243.3 494.95H386M386 469.05V520.85M386 469.05H432.7M432.7 456.1V482M432.7 456.1H481M432.7 482H481M386 520.85H432.7M432.7 507.9V533.8M432.7 507.9H481M432.7 533.8H481M243.3 608.3H291M291 572.65V643.9M291 572.65H432.7M432.7 559.7V585.6M432.7 559.7H481M432.7 585.6H481M291 643.9H338.3M338.3 611.5V676.25M338.3 611.5H481M338.3 676.25H386M386 650.35V702.15M386 650.35H432.7M432.7 637.4V663.3M432.7 637.4H481M432.7 663.3H481M386 702.15H432.7M432.7 689.2V715.1M432.7 689.2H481M432.7 715.1H481M291 821.95H338.3M338.3 799.3V844.6M291 870.5H481M338.3 844.6H481M338.3 799.3H386M386 779.85V818.7M386 818.7H481M386 779.85H432.7M432.7 766.9V792.8M432.7 766.9H481M432.7 792.8H481"/>
</g>
<g id="bootstrap">
<text class="bs" x="427" y="464">77</text>
<text class="bs" x="427" y="537">51</text>
<text class="bs" x="428" y="645">76</text>
<text class="bs" x="143" y="555">99</text>
<text class="bs" x="192" y="661.7">98</text>
<text class="bs" x="428" y="775">65</text>
<text class="bs" x="381" y="795">71</text>
<text class="bs" x="333" y="818">100</text>
<text class="bs" x="286" y="863">85</text>
</g>
<g id="leaf-AtMYB5"><text class="lbl" x="487" y="408.9">AtMYB5</text></g>
<g id="leaf-AtMYB17"><text class="lbl" x="487" y="434.8">AtMYB17</text></g>
<g id="leaf-AtMYB106"><text class="lbl" x="487" y="460.7">AtMYB106</text></g>
<g id="leaf-AtMYB16"><text class="lbl" x="487" y="486.6">AtMYB16</text></g>
<g id="leaf-PhMYB1"><text class="lbl" x="487" y="512.5">PhMYB1</text></g>
<g id="leaf-AmMYBML2"><text class="lbl" x="487" y="538.4">AmMYBML2</text></g>
<g id="leaf-CsMYB6"><rect class="box" x="483.3" y="546" width="72.7" height="23.3"/><text class="lbl" x="487" y="564.3">CsMYB6</text></g>
<g id="leaf-AmMYBML3"><text class="lbl" x="487" y="590.2">AmMYBML3</text></g>
<g id="leaf-GhMYB25"><text class="lbl" x="487" y="616.1">GhMYB25</text></g>
<g id="leaf-ShMYB1"><text class="lbl" x="487" y="642">ShMYB1</text></g>
<g id="leaf-GhMYB25-like"><text class="lbl" x="487" y="667.9">GhMYB25-like</text></g>
<g id="leaf-CsMYB26"><rect class="box" x="483.3" y="677.3" width="72.7" height="23.3"/><text class="lbl" x="487" y="693.8">CsMYB26</text></g>
<g id="leaf-AmMYBML1"><text class="lbl" x="487" y="719.7">AmMYBML1</text></g>
<g id="leaf-AmMIXTA"><text class="lbl" x="487" y="745.6">AmMIXTA</text></g>
<g id="leaf-AtMYB0"><text class="lbl" x="487" y="771.5">AtMYB0(AtGL1)</text></g>
<g id="leaf-AtMYB23"><text class="lbl" x="487" y="797.4">AtMYB23</text></g>
<g id="leaf-AtMYB66"><text class="lbl" x="487" y="823.3">AtMYB66(WER)</text></g>
<g id="leaf-GhMYB109"><text class="lbl" x="487" y="849.2">GhMYB109</text></g>
<g id="leaf-GaMYB2"><text class="lbl" x="487" y="873.3" style="font-size:12.5px">GaMYB2</text></g>
<g id="clade-MIXTA"><rect class="red" x="607.5" y="398" width="5.5" height="353"/><text class="lbl" x="643" y="566">MIXTA Clade</text></g>
<g id="clade-GL1"><rect class="red" x="607.5" y="761" width="5.5" height="115"/><text class="lbl" x="648" y="827" style="white-space:pre">GL1  Clade</text></g>
</g>
</svg>
